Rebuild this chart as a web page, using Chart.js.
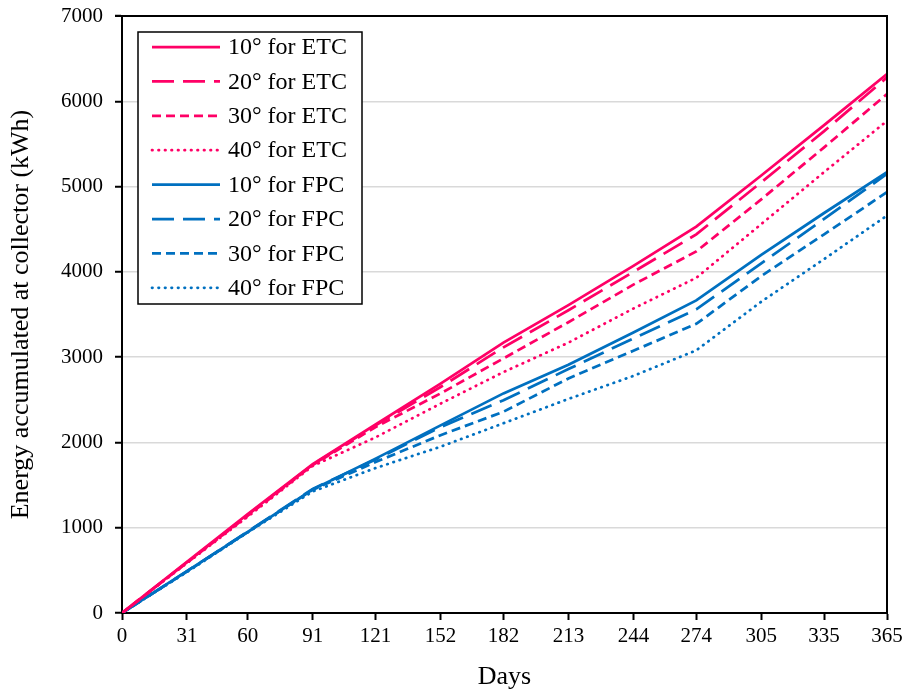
<!DOCTYPE html>
<html>
<head>
<meta charset="utf-8">
<script src="https://cdn.jsdelivr.net/npm/chart.js@4.4.0/dist/chart.umd.min.js"></script>
<style>
  html, body { margin: 0; padding: 0; background: #fff; }
  #wrap { width: 907px; height: 693px; }
</style>
</head>
<body>
<div id="wrap"><canvas id="energy-chart" width="907" height="693"></canvas></div>
<script>
// Days at month boundaries (x axis ticks and data points)
const days = [0, 31, 60, 91, 121, 152, 182, 213, 244, 274, 305, 335, 365];
const yTicks = [0, 1000, 2000, 3000, 4000, 5000, 6000, 7000];

// Accumulated energy (kWh)
const etc10 = [0, 600, 1160, 1745, 2210, 2690, 3170, 3610, 4070, 4530, 5130, 5720, 6320];
const etc20 = [0, 595, 1150, 1740, 2200, 2650, 3115, 3550, 4000, 4440, 5050, 5650, 6280];
const etc30 = [0, 590, 1140, 1735, 2180, 2575, 2985, 3410, 3850, 4240, 4850, 5460, 6085];
const etc40 = [0, 585, 1130, 1725, 2060, 2455, 2825, 3170, 3570, 3930, 4560, 5170, 5770];
const fpc10 = [0, 490, 950, 1450, 1810, 2200, 2575, 2910, 3290, 3665, 4200, 4690, 5170];
const fpc20 = [0, 490, 955, 1455, 1800, 2180, 2495, 2860, 3220, 3560, 4100, 4620, 5150];
const fpc30 = [0, 485, 950, 1445, 1770, 2085, 2360, 2750, 3075, 3390, 3950, 4440, 4935];
const fpc40 = [0, 480, 945, 1425, 1700, 1950, 2225, 2510, 2780, 3080, 3650, 4150, 4660];

const PINK = '#FF0066';
const BLUE = '#0070C0';
const FONT = '"Liberation Serif", "Times New Roman", serif';

// dash styles for 10°, 20°, 30°, 40°
const dashes = [[], [22, 9], [9, 5], [0.5, 6]];
const caps = ['butt', 'butt', 'butt', 'round'];

function series(label, values, color, i) {
    return {
        label: label,
        data: values.map((v, k) => ({ x: days[k], y: v })),
        borderColor: color,
        backgroundColor: color,
        borderWidth: 2.75,
        borderDash: dashes[i],
        borderCapStyle: caps[i],
        pointRadius: 0,
        tension: 0,
        fill: false,
    };
}

const datasets = [
    series('10° for ETC', etc10, PINK, 0),
    series('20° for ETC', etc20, PINK, 1),
    series('30° for ETC', etc30, PINK, 2),
    series('40° for ETC', etc40, PINK, 3),
    series('10° for FPC', fpc10, BLUE, 0),
    series('20° for FPC', fpc20, BLUE, 1),
    series('30° for FPC', fpc30, BLUE, 2),
    series('40° for FPC', fpc40, BLUE, 3),
];

// Draws the top/right frame and the boxed legend inside the plot
const frameAndLegend = {
    id: 'frameAndLegend',
    afterDatasetsDraw(chart) {
        const ctx = chart.ctx;
        const area = chart.chartArea;
        ctx.save();

        ctx.strokeStyle = '#000';
        ctx.lineWidth = 2;
        ctx.beginPath();
        ctx.moveTo(area.left - 7, area.top);
        ctx.lineTo(area.right, area.top);
        ctx.lineTo(area.right, area.bottom);
        ctx.stroke();

        // legend box
        const bx = area.left + 16;
        const by = area.top + 16;
        const bw = 224;
        const bh = 272;
        ctx.fillStyle = '#fff';
        ctx.fillRect(bx, by, bw, bh);
        ctx.lineWidth = 1.5;
        ctx.strokeRect(bx, by, bw, bh);

        ctx.font = '24px ' + FONT;
        ctx.textBaseline = 'middle';
        ctx.textAlign = 'left';
        chart.data.datasets.forEach((ds, i) => {
            const y = by + 15 + i * 34.4;
            ctx.strokeStyle = ds.borderColor;
            ctx.lineWidth = ds.borderWidth;
            ctx.setLineDash(ds.borderDash);
            ctx.lineCap = ds.borderCapStyle;
            ctx.beginPath();
            ctx.moveTo(bx + 14, y);
            ctx.lineTo(bx + 82, y);
            ctx.stroke();
            ctx.setLineDash([]);
            ctx.fillStyle = '#000';
            ctx.fillText(ds.label, bx + 90, y + 1);
        });
        ctx.restore();
    }
};

new Chart(document.getElementById('energy-chart').getContext('2d'), {
    type: 'line',
    data: { datasets: datasets },
    options: {
        responsive: false,
        animation: false,
        layout: { padding: { top: 16, right: 20, left: 0, bottom: 0 } },
        plugins: {
            legend: { display: false },
            tooltip: { enabled: false },
        },
        scales: {
            x: {
                type: 'linear',
                min: 0,
                max: 365,
                afterBuildTicks: (scale) => { scale.ticks = days.map(d => ({ value: d })); },
                afterFit: (scale) => { scale.height = 80; },
                border: { display: true, color: '#000', width: 2 },
                grid: {
                    drawOnChartArea: false,
                    drawTicks: true,
                    tickLength: 7,
                    tickColor: '#000',
                    tickWidth: 2,
                },
                ticks: {
                    autoSkip: false,
                    maxRotation: 0,
                    padding: 4,
                    color: '#000',
                    font: { family: FONT, size: 21 },
                },
                title: {
                    display: true,
                    text: 'Days',
                    color: '#000',
                    font: { family: FONT, size: 26 },
                    padding: { top: 0, bottom: 0 },
                },
            },
            y: {
                min: 0,
                max: 7000,
                afterBuildTicks: (scale) => { scale.ticks = yTicks.map(v => ({ value: v })); },
                afterFit: (scale) => {
                    scale.width = 122;
                    // let the layout padding alone decide where the plot starts
                    scale.paddingTop = 0;
                    scale.paddingBottom = 0;
                },
                border: { display: true, color: '#000', width: 2 },
                grid: {
                    color: '#d9d9d9',
                    lineWidth: 1.5,
                    drawTicks: true,
                    tickLength: 7,
                    tickColor: '#000',
                    tickWidth: 2,
                },
                ticks: {
                    padding: 12,
                    color: '#000',
                    font: { family: FONT, size: 21 },
                    callback: (value) => String(value),
                },
                title: {
                    display: true,
                    text: 'Energy accumulated at collector (kWh)',
                    color: '#000',
                    font: { family: FONT, size: 26 },
                    padding: { top: 6, bottom: 0 },
                },
            },
        },
    },
    plugins: [frameAndLegend],
});
</script>
</body>
</html>
